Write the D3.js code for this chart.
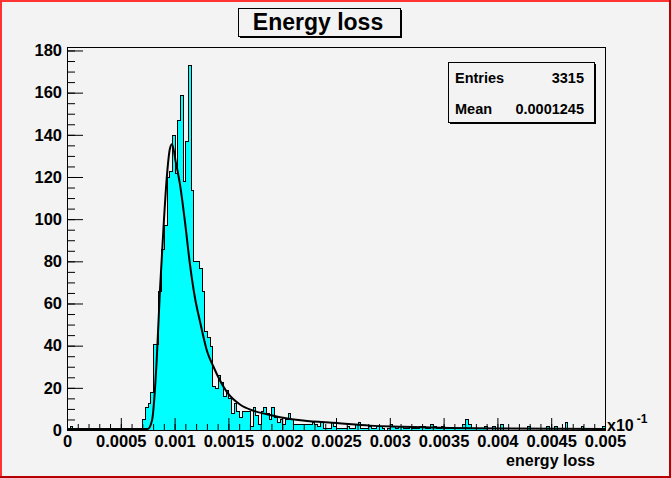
<!DOCTYPE html>
<html lang="en">
<head>
<meta charset="UTF-8">
<script src="https://d3js.org/d3.v7.min.js"></script>
<title>Energy loss</title>
<style>
  body { margin: 0; background: #f3f3f3; }
  svg { display: block; }
  text { font-family: "Liberation Sans", Arial, sans-serif; font-weight: bold; fill: #000; }
  .tick line { stroke: #000; }
  .axis .domain { display: none; }
</style>
</head>
<body>
<svg id="chart" width="671" height="478"></svg>
<script>
// histogram: 200 bins between 0 and 0.005
const xLow = 0, xHigh = 0.005, nBins = 200;
const counts = [
  0, 2, 0, 1, 0, 0, 1, 0, 0, 0,   0, 1, 0, 0, 0, 1, 0, 0, 1, 0,
  0, 0, 1, 0, 0, 1, 1, 1, 5, 11,  13, 18, 41, 41, 66, 86, 97, 120, 123, 140,
  122, 147, 159, 118, 137, 173, 114, 80, 80, 77,  66, 47, 44, 40, 21, 20, 26, 23, 16, 19,
  15, 8, 13, 9, 6, 9, 9, 9, 2, 11,  7, 3, 9, 11, 8, 5, 11, 6, 4, 5,
  3, 5, 8, 5, 3, 3, 3, 3, 3, 3,   3, 4, 3, 2, 4, 1, 1, 1, 4, 2,
  1, 1, 1, 1, 2, 1, 1, 3, 4, 1,   1, 1, 2, 1, 1, 2, 2, 1, 0, 1,
  3, 2, 1, 2, 2, 1, 1, 2, 1, 1,   1, 2, 2, 1, 1, 3, 2, 1, 1, 2,
  1, 1, 1, 1, 1, 1, 1, 3, 5, 3,   1, 1, 1, 1, 1, 2, 0, 0, 2, 0,
  0, 3, 0, 0, 0, 0, 0, 0, 0, 0,   0, 2, 0, 0, 0, 0, 0, 0, 2, 0,
  0, 2, 0, 0, 0, 4, 0, 0, 0, 0,   0, 2, 0, 0, 0, 0, 0, 0, 0, 2
];

// fitted curve
const fitX = [0, 0.0006, 0.00075, 0.00079, 0.000834, 0.000864, 0.000902, 0.000927, 0.000957, 0.000976,
  0.001013, 0.00105, 0.001097, 0.001143, 0.00119, 0.001236, 0.001301, 0.001357, 0.001487, 0.001608,
  0.001729, 0.001859, 0.00198, 0.002193, 0.002509, 0.002816, 0.003123, 0.00356, 0.004024, 0.005];
const fitY = [0, 0, 0, 4, 33, 66, 100, 119, 133, 135,
  126, 116, 98, 78, 62, 51, 37, 30, 17.5, 11.6,
  8.7, 7, 5.6, 4, 2.8, 1.6, 1.1, 0.5, 0.2, 0.05];

const xTicks = [0, 0.0005, 0.001, 0.0015, 0.002, 0.0025, 0.003, 0.0035, 0.004, 0.0045, 0.005];
const xTickLabels = ["0", "0.0005", "0.001", "0.0015", "0.002", "0.0025", "0.003", "0.0035", "0.004", "0.0045", "0.005"];
const yTicks = [0, 20, 40, 60, 80, 100, 120, 140, 160, 180];

const statNames = ["Entries", "Mean"];
const statValues = ["3315", "0.0001245"];

const svg = d3.select("svg#chart");
const width = +svg.attr("width");
const height = +svg.attr("height");
const margin = {top: 47, right: 66, bottom: 48, left: 67};
const yMax = d3.max(counts) * 1.05;

const x = d3.scaleLinear().domain([xLow, xHigh]).range([margin.left, width - margin.right]);
const y = d3.scaleLinear().domain([0, yMax]).range([height - margin.bottom, margin.top]);
const binW = (xHigh - xLow) / nBins;

// canvas background
svg.append("rect").attr("width", width).attr("height", height).attr("fill", "#f3f3f3");

svg.append("defs").append("clipPath").attr("id", "frameClip")
  .append("rect")
  .attr("x", margin.left).attr("y", margin.top)
  .attr("width", width - margin.left - margin.right)
  .attr("height", height - margin.top - margin.bottom);

const plot = svg.append("g").attr("clip-path", "url(#frameClip)");

// histogram points: left edge of each bin, plus closing points on the baseline
let pts = [[xLow, 0]];
counts.forEach((c, i) => pts.push([xLow + i * binW, c]));
pts.push([xHigh, counts[nBins - 1]]);
pts.push([xHigh, 0]);

plot.append("path")
  .datum(pts)
  .attr("fill", "#00ffff")
  .attr("stroke", "none")
  .attr("shape-rendering", "crispEdges")
  .attr("d", d3.area().curve(d3.curveStepAfter).x(d => x(d[0])).y0(y(0)).y1(d => y(d[1])));

plot.append("path")
  .datum(pts)
  .attr("fill", "none")
  .attr("stroke", "#000")
  .attr("stroke-width", 1)
  .attr("shape-rendering", "crispEdges")
  .attr("d", d3.line().curve(d3.curveStepAfter).x(d => Math.round(x(d[0])) + 0.5).y(d => Math.round(y(d[1])) + 0.5));

// fit curve
plot.append("path")
  .datum(fitX.map((v, i) => [v, fitY[i]]))
  .attr("fill", "none")
  .attr("stroke", "#000")
  .attr("stroke-width", 2)
  .attr("d", d3.line().curve(d3.curveMonotoneX).x(d => x(d[0])).y(d => y(d[1]) - 1));

// frame
svg.append("rect")
  .attr("x", margin.left + 0.5).attr("y", margin.top + 0.5)
  .attr("width", width - margin.left - margin.right)
  .attr("height", height - margin.top - margin.bottom)
  .attr("fill", "none").attr("stroke", "#000").attr("stroke-width", 1);

// x axis: minor then major ticks pointing up
const xMinor = d3.range(0, 51).map(i => i * 0.0001);
svg.append("g").attr("class", "axis")
  .attr("transform", `translate(0,${height - margin.bottom})`)
  .call(d3.axisBottom(x).tickValues(xMinor).tickSize(-6).tickFormat(""));

svg.append("g").attr("class", "axis xAxis")
  .attr("transform", `translate(0,${height - margin.bottom})`)
  .call(d3.axisBottom(x).tickValues(xTicks).tickSize(-12).tickPadding(5)
    .tickFormat((d, i) => xTickLabels[i]))
  .selectAll("text").attr("font-size", 16.5);

// y axis: minor then major ticks pointing right
const yMinor = d3.range(0, 37).map(i => i * 5);
svg.append("g").attr("class", "axis")
  .attr("transform", `translate(${margin.left},0)`)
  .call(d3.axisLeft(y).tickValues(yMinor).tickSize(-8).tickFormat(""));

svg.append("g").attr("class", "axis yAxis")
  .attr("transform", `translate(${margin.left},0)`)
  .call(d3.axisLeft(y).tickValues(yTicks).tickSize(-16).tickPadding(5))
  .selectAll("text").attr("font-size", 16.5);

svg.selectAll(".axis text").style("font-family", "'Liberation Sans', Arial, sans-serif")
  .style("font-weight", "bold");

// exponent label and axis title
const expo = svg.append("text").attr("x", 607).attr("y", 431).attr("font-size", 16);
expo.append("tspan").text("x10");
expo.append("tspan").attr("dx", 3).attr("dy", -8).attr("font-size", 12).text("-1");

svg.append("text")
  .attr("x", 595).attr("y", 466)
  .attr("text-anchor", "end")
  .attr("font-size", 16)
  .text("energy loss");

// pave boxes with shadow
function pave(x0, y0, w, h) {
  svg.append("rect").attr("x", x0 + 2).attr("y", y0 + 2).attr("width", w).attr("height", h).attr("fill", "#000");
  svg.append("rect").attr("x", x0 + 0.5).attr("y", y0 + 0.5).attr("width", w).attr("height", h)
    .attr("fill", "#f3f3f3").attr("stroke", "#000").attr("stroke-width", 1);
}

pave(238, 8, 162, 28);
svg.append("text")
  .attr("x", 318).attr("y", 30)
  .attr("text-anchor", "middle")
  .attr("font-size", 23)
  .text("Energy loss");

pave(448, 62, 146, 60);
statNames.forEach((n, i) => {
  svg.append("text").attr("x", 455).attr("y", 83 + i * 31).attr("font-size", 14.5).text(n);
  svg.append("text").attr("x", 584).attr("y", 83 + i * 31).attr("font-size", 14.5)
    .attr("text-anchor", "end").text(statValues[i]);
});

// canvas border
svg.append("rect").attr("x", 0).attr("y", 0).attr("width", width).attr("height", 2).attr("fill", "#ff3333");
svg.append("rect").attr("x", 0).attr("y", 0).attr("width", 2).attr("height", height).attr("fill", "#ff3333");
svg.append("rect").attr("x", 0).attr("y", height - 2).attr("width", width).attr("height", 2).attr("fill", "#b80000");
svg.append("rect").attr("x", width - 2).attr("y", 0).attr("width", 2).attr("height", height).attr("fill", "#b80000");
</script>
</body>
</html>
